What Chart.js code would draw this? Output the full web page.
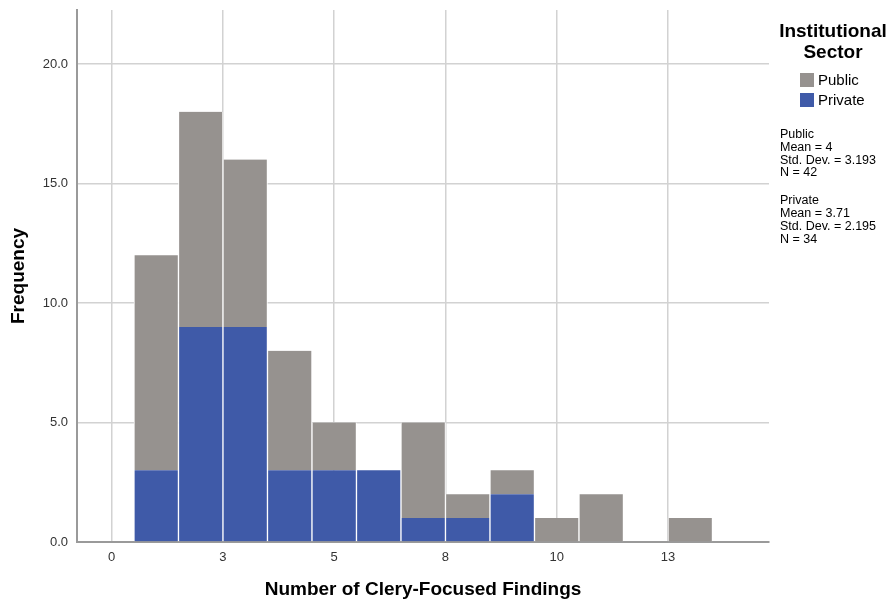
<!DOCTYPE html>
<html>
<head>
<meta charset="utf-8">
<title>Clery-Focused Findings</title>
<script src="https://cdn.jsdelivr.net/npm/chart.js@4.4.1/dist/chart.umd.min.js"></script>
<style>
  html, body { margin: 0; padding: 0; background: #fff; }
  #wrap { position: relative; width: 890px; height: 602px; font-family: "Liberation Sans", Arial, sans-serif; color: #000; }
  #legend { position: absolute; left: 770px; top: 20px; width: 126px; }
  #legend .ttl { font-weight: bold; font-size: 19px; line-height: 21px; text-align: center; }
  #legend .item { position: relative; font-size: 15px; line-height: 20px; margin-left: 30px; padding-left: 18px; }
  #legend .item span { position: absolute; left: 0; top: 3px; width: 14px; height: 14px; }
  #stats { position: absolute; left: 780px; top: 128px; font-size: 12.5px; line-height: 12.8px; }
  #stats p { margin: 0 0 15px 0; }
</style>
</head>
<body>
<div id="wrap">
  <canvas id="hist" width="890" height="602"></canvas>
  <div id="legend">
    <div class="ttl">Institutional<br>Sector</div>
    <div style="height:8px"></div>
    <div class="item"><span style="background:#96928f"></span>Public</div>
    <div class="item"><span style="background:#3f5aa8"></span>Private</div>
  </div>
  <div id="stats">
    <p>Public<br>Mean = 4<br>Std. Dev. = 3.193<br>N = 42</p>
    <p>Private<br>Mean = 3.71<br>Std. Dev. = 2.195<br>N = 34</p>
  </div>
</div>
<script>
// number of findings (bin centres)
const findings = [1, 2, 3, 4, 5, 6, 7, 8, 9, 10, 11, 12, 13];
// frequencies per sector
const privateCounts = [3, 9, 9, 3, 3, 3, 1, 1, 2, 0, 0, 0, 0];
const publicCounts  = [9, 9, 7, 5, 2, 0, 4, 1, 1, 1, 2, 0, 1];

const xTickValues = [0, 2.5, 5, 7.5, 10, 12.5];
const yTickValues = [0, 5, 10, 15, 20];

const barBorder = { left: 1, right: 1, top: 0, bottom: 0 };

new Chart(document.getElementById('hist'), {
  type: 'bar',
  data: {
    datasets: [
      {
        label: 'Private',
        data: findings.map((f, i) => ({ x: f, y: privateCounts[i] })),
        backgroundColor: '#3f5aa8',
        borderColor: '#ffffff',
        borderWidth: barBorder,
        borderSkipped: false,
        barPercentage: 1,
        categoryPercentage: 1
      },
      {
        label: 'Public',
        data: findings.map((f, i) => ({ x: f, y: publicCounts[i] })),
        backgroundColor: '#96928f',
        borderColor: '#ffffff',
        borderWidth: barBorder,
        borderSkipped: false,
        barPercentage: 1,
        categoryPercentage: 1
      }
    ]
  },
  options: {
    responsive: false,
    animation: false,
    layout: { padding: { top: 10, right: 121, left: 0, bottom: 0 } },
    plugins: { legend: { display: false }, tooltip: { enabled: false } },
    scales: {
      x: {
        type: 'linear',
        stacked: true,
        offset: false,
        min: -0.78,
        max: 14.77,
        afterFit: s => { s.height = 60; s.paddingLeft = 0; s.paddingRight = 0; },
        afterBuildTicks: s => { s.ticks = xTickValues.map(v => ({ value: v })); },
        ticks: {
          padding: 8,
          color: '#333',
          font: { family: 'Liberation Sans', size: 13 },
          callback: v => String(Math.round(v))
        },
        grid: { color: '#d2d2d2', lineWidth: 1.5, drawTicks: false, offset: false },
        border: { color: '#9a9a9a', width: 2 },
        title: {
          display: true,
          text: 'Number of Clery-Focused Findings',
          color: '#000',
          font: { family: 'Liberation Sans', size: 19, weight: 'bold' },
          padding: { top: 0, bottom: 1 }
        }
      },
      y: {
        stacked: true,
        min: 0,
        max: 22.26,
        afterFit: s => { s.width = 77; s.paddingTop = 0; s.paddingBottom = 0; },
        afterBuildTicks: s => { s.ticks = yTickValues.map(v => ({ value: v })); },
        ticks: {
          padding: 9,
          color: '#333',
          font: { family: 'Liberation Sans', size: 13 },
          callback: v => v.toFixed(1)
        },
        grid: { color: '#d2d2d2', lineWidth: 1.5, drawTicks: false },
        border: { color: '#9a9a9a', width: 2 },
        title: {
          display: true,
          text: 'Frequency',
          color: '#000',
          font: { family: 'Liberation Sans', size: 19, weight: 'bold' },
          padding: { top: 7, bottom: 0 }
        }
      }
    }
  }
});
</script>
</body>
</html>
